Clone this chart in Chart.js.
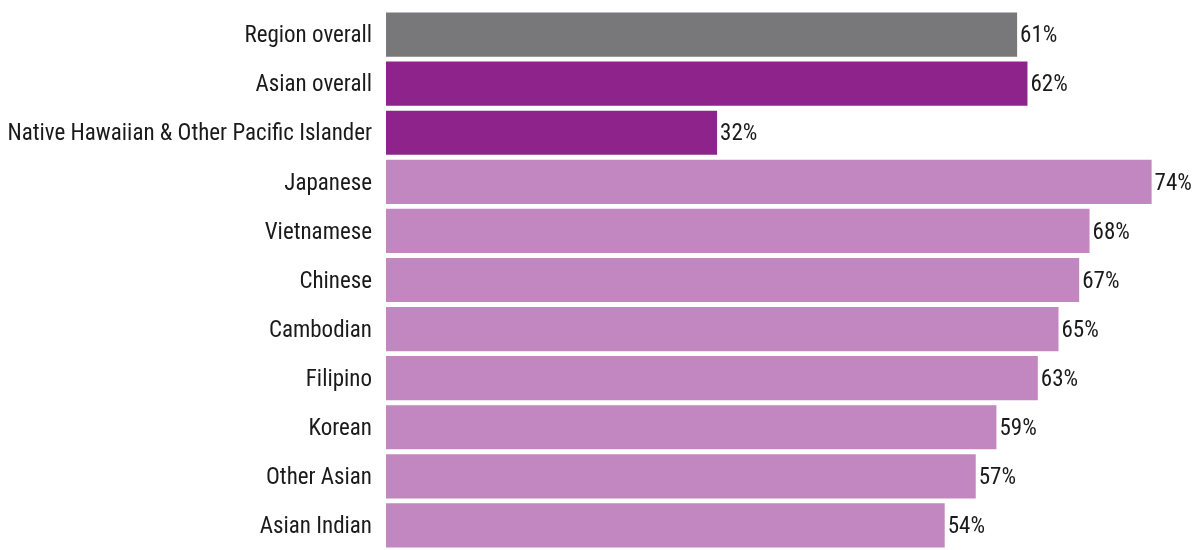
<!DOCTYPE html>
<html>
<head>
<meta charset="utf-8">
<script src="https://cdn.jsdelivr.net/npm/chart.js@4"></script>
<style>
html,body{margin:0;padding:0;background:#fff;}
#wrap{width:1198px;height:550px;position:relative;}
</style>
</head>
<body>
<div id="wrap"><canvas id="c"></canvas></div>
<script>
const categories = [
  "Region overall",
  "Asian overall",
  "Native Hawaiian & Other Pacific Islander",
  "Japanese",
  "Vietnamese",
  "Chinese",
  "Cambodian",
  "Filipino",
  "Korean",
  "Other Asian",
  "Asian Indian"
];
const values = [61, 62, 32, 74, 68, 67, 65, 63, 59, 57, 54];
const groups = ["region", "overall", "overall", "sub", "sub", "sub", "sub", "sub", "sub", "sub", "sub"];
const groupColors = { region: "#78787a", overall: "#8e238b", sub: "#c286c0" };

const FONT = "'Roboto Condensed', 'Liberation Sans Narrow', 'DejaVu Sans Condensed', sans-serif";

const valueLabels = {
  id: "valueLabels",
  afterDatasetsDraw(chart) {
    const ctx = chart.ctx;
    const meta = chart.getDatasetMeta(0);
    ctx.save();
    ctx.font = "23px " + FONT;
    ctx.fillStyle = "#1a1a1a";
    ctx.textAlign = "left";
    ctx.textBaseline = "middle";
    meta.data.forEach((bar, i) => {
      ctx.fillText(values[i] + "%", bar.x + 3, bar.y + 2);
    });
    ctx.restore();
  }
};

new Chart(document.getElementById("c"), {
  type: "bar",
  data: {
    labels: categories,
    datasets: [{
      data: values,
      backgroundColor: groups.map(g => groupColors[g]),
      borderWidth: 0,
      barPercentage: 0.9,
      categoryPercentage: 1.0
    }]
  },
  options: {
    indexAxis: "y",
    responsive: true,
    maintainAspectRatio: false,
    animation: false,
    layout: { padding: { top: 10, bottom: -4, left: 0, right: 5 } },
    plugins: { legend: { display: false }, tooltip: { enabled: false } },
    scales: {
      x: { display: false, min: 0, max: 78 },
      y: {
        grid: { display: false },
        border: { display: false },
        ticks: { color: "#1a1a1a", padding: 6, labelOffset: 2, font: { family: FONT, size: 23 } },
        afterFit(scale) { scale.width = 386; scale.paddingTop = 0; scale.paddingBottom = 0; }
      }
    }
  },
  plugins: [valueLabels]
});
</script>
</body>
</html>
